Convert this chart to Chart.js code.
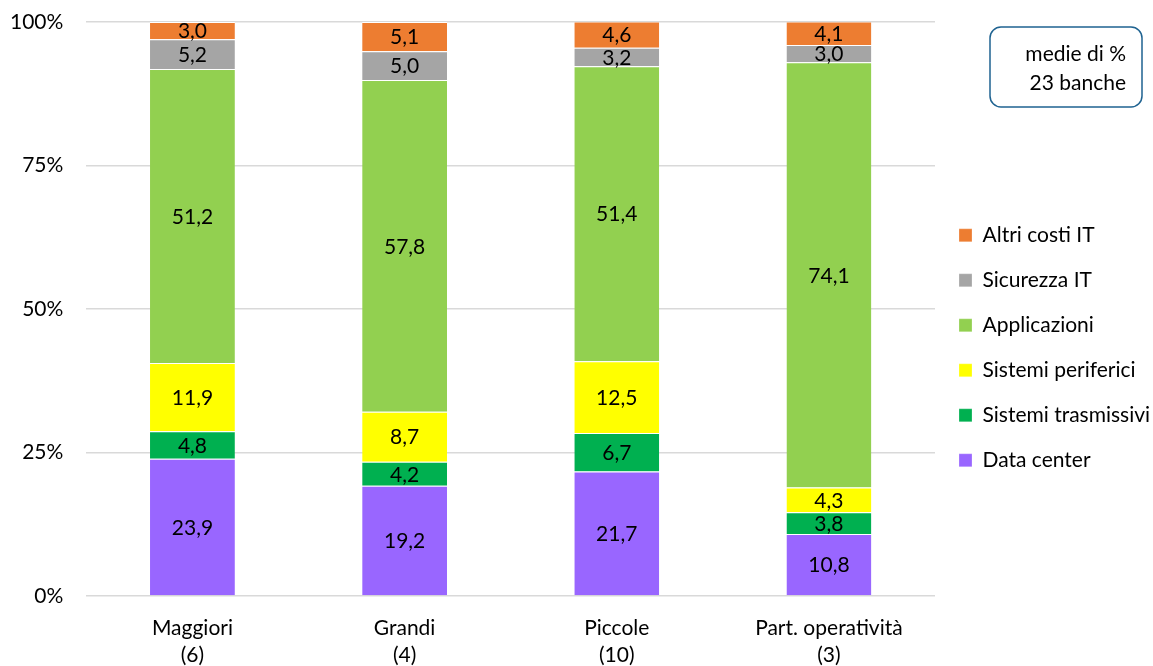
<!DOCTYPE html>
<html>
<head>
<meta charset="utf-8">
<script src="https://cdn.jsdelivr.net/npm/chart.js@4/dist/chart.umd.min.js"></script>
<style>
html,body{margin:0;padding:0;background:#fff;}
#wrap{width:1153px;height:666px;position:relative;}
</style>
</head>
<body>
<div id="wrap"><canvas id="c" width="1153" height="666"></canvas></div>
<script>
const categories = [['Maggiori','(6)'], ['Grandi','(4)'], ['Piccole','(10)'], ['Part. operatività','(3)']];
const dataCenter = [23.9, 19.2, 21.7, 10.8];
const sistemiTrasmissivi = [4.8, 4.2, 6.7, 3.8];
const sistemiPeriferici = [11.9, 8.7, 12.5, 4.3];
const applicazioni = [51.2, 57.8, 51.4, 74.1];
const sicurezzaIT = [5.2, 5.0, 3.2, 3.0];
const altriCostiIT = [3.0, 5.1, 4.6, 4.1];
const yTicks = [0, 25, 50, 75, 100];
const noteLines = ['medie di %', '23 banche'];

const FONT = 'Lato, "Open Sans", sans-serif';
const FS = 21;

const labelPlugin = {
  id: 'segLabels',
  afterDatasetsDraw(chart) {
    const ctx = chart.ctx;
    ctx.save();
    ctx.font = FS + 'px ' + FONT;
    ctx.fillStyle = '#000';
    ctx.textAlign = 'center';
    ctx.textBaseline = 'middle';
    chart.data.datasets.forEach((ds, i) => {
      const meta = chart.getDatasetMeta(i);
      meta.data.forEach((el, j) => {
        const v = ds.data[j];
        const y = (el.y + el.base) / 2;
        ctx.fillText(v.toFixed(1).replace('.', ','), el.x, y + 1);
      });
    });
    ctx.restore();
  }
};

const notePlugin = {
  id: 'noteBox',
  afterDraw(chart) {
    const ctx = chart.ctx;
    ctx.save();
    const x = 990, y = 27, w = 152, h = 80, r = 11;
    ctx.beginPath();
    ctx.roundRect(x, y, w, h, r);
    ctx.lineWidth = 1.5;
    ctx.strokeStyle = '#1F6391';
    ctx.stroke();
    ctx.font = FS + 'px ' + FONT;
    ctx.fillStyle = '#000';
    ctx.textAlign = 'right';
    ctx.textBaseline = 'middle';
    ctx.fillText(noteLines[0], 1126, 54);
    ctx.fillText(noteLines[1], 1126, 83);
    ctx.restore();
  }
};

const mk = (label, data, color) => ({
  label, data, backgroundColor: color, borderColor: '#ffffff', borderWidth: {top: 1, bottom: 0, left: 0, right: 0},
  borderSkipped: false, barPercentage: 0.4, categoryPercentage: 1.0
});

new Chart(document.getElementById('c'), {
  type: 'bar',
  data: {
    labels: categories,
    datasets: [
      mk('Data center', dataCenter, '#9966FF'),
      mk('Sistemi trasmissivi', sistemiTrasmissivi, '#00B050'),
      mk('Sistemi periferici', sistemiPeriferici, '#FFFF00'),
      mk('Applicazioni', applicazioni, '#92D050'),
      mk('Sicurezza IT', sicurezzaIT, '#A5A5A5'),
      mk('Altri costi IT', altriCostiIT, '#ED7D31')
    ]
  },
  options: {
    responsive: false,
    animation: false,
    layout: { autoPadding: false, padding: { left: -13, top: 8.4, bottom: -21.2, right: 0 } },
    scales: {
      x: {
        stacked: true,
        grid: { display: false, drawTicks: false },
        border: { display: false },
        ticks: { color: '#000', font: { size: FS, family: FONT, lineHeight: 1.29 }, padding: 18.5, maxRotation: 0 }
      },
      y: {
        stacked: true,
        min: 0, max: 100,
        afterBuildTicks(axis) { axis.ticks = yTicks.map(v => ({ value: v })); },
        afterFit(axis) { axis.paddingTop = 22; axis.paddingBottom = 0; },
        grid: { color: '#D9D9D9', lineWidth: 1.5, drawTicks: false },
        border: { display: false },
        ticks: { color: '#000', font: { size: FS, family: FONT }, padding: 23, callback: v => v + '%' }
      }
    },
    plugins: {
      legend: {
        position: 'right',
        reverse: true,
        maxWidth: 218,
        labels: {
          color: '#000',
          font: { size: FS, family: FONT },
          boxWidth: 13, boxHeight: 13,
          padding: 24
        }
      },
      tooltip: { enabled: false }
    }
  },
  plugins: [labelPlugin, notePlugin]
});
</script>
</body>
</html>
